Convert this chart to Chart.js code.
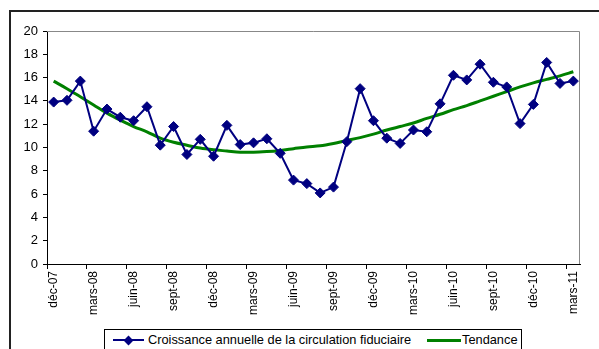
<!DOCTYPE html>
<html>
<head>
<meta charset="utf-8">
<script src="https://cdn.jsdelivr.net/npm/chart.js@4"></script>
<style>
  html, body { margin: 0; padding: 0; background: #fff; overflow: hidden; }
  #wrap { position: relative; width: 599px; height: 349px; }
  #chart { position: absolute; left: 0; top: 0; }
  #legend {
    position: absolute; left: 104px; top: 329px; width: 416px; height: 22px;
    border: 1px solid #000; background: #fff;
    font: 12.8px "Liberation Sans", Arial, sans-serif; color: #000;
    line-height: 20px; white-space: nowrap;
  }
  .swatch { position: absolute; top: 10px; }
  .diamond { position: absolute; width: 7px; height: 7px; transform: rotate(45deg); }
  .label { position: absolute; top: 0; }
</style>
</head>
<body>
<div id="wrap">
  <canvas id="chart" width="599" height="349"></canvas>
  <div id="legend"></div>
</div>
<script>
// Monthly categories, Dec 2007 to Mar 2011
const months = [
  'déc-07',
  'janv-08', 'févr-08', 'mars-08', 'avr-08', 'mai-08', 'juin-08',
  'juil-08', 'août-08', 'sept-08', 'oct-08', 'nov-08', 'déc-08',
  'janv-09', 'févr-09', 'mars-09', 'avr-09', 'mai-09', 'juin-09',
  'juil-09', 'août-09', 'sept-09', 'oct-09', 'nov-09', 'déc-09',
  'janv-10', 'févr-10', 'mars-10', 'avr-10', 'mai-10', 'juin-10',
  'juil-10', 'août-10', 'sept-10', 'oct-10', 'nov-10', 'déc-10',
  'janv-11', 'févr-11', 'mars-11'
];

// Annual growth of currency in circulation (%)
const croissance = [
  13.9, 14.05, 15.7, 11.4, 13.3, 12.6, 12.3, 13.5, 10.2, 11.8,
  9.4, 10.7, 9.25, 11.9, 10.25, 10.4, 10.75, 9.5, 7.2, 6.9,
  6.1, 6.6, 10.5, 15.05, 12.3, 10.8, 10.35, 11.5, 11.35, 13.75,
  16.2, 15.8, 17.15, 15.6, 15.2, 12.05, 13.7, 17.3, 15.5, 15.7
];

// Trend curve
const tendance = [
  15.7, 15.05, 14.35, 13.65, 12.95, 12.35, 11.8, 11.35, 10.8, 10.45,
  10.2, 9.95, 9.8, 9.7, 9.6, 9.6, 9.65, 9.75, 9.9, 10.05,
  10.15, 10.35, 10.6, 10.85, 11.15, 11.5, 11.8, 12.1, 12.5, 12.85,
  13.25, 13.6, 14.0, 14.4, 14.8, 15.2, 15.55, 15.85, 16.15, 16.5
];

const yTicks = { min: 0, max: 20, step: 2 };
const labelEvery = 3;

const NAVY = '#000080';
const GREEN = '#008000';
const FONT = '"Liberation Sans", Arial, sans-serif';

// Outer frame and the grey top/right edges of the plot area
const framePlugin = {
  id: 'frame',
  beforeDraw(chart) {
    const ctx = chart.ctx;
    ctx.save();
    ctx.fillStyle = '#fff';
    ctx.fillRect(0, 0, chart.width, chart.height);
    ctx.strokeStyle = '#222';
    ctx.lineWidth = 2;
    ctx.beginPath();
    ctx.moveTo(10, chart.height + 2);
    ctx.lineTo(10, 11);
    ctx.lineTo(chart.width + 2, 11);
    ctx.stroke();
    ctx.restore();
  },
  beforeDatasetsDraw(chart) {
    const { ctx, chartArea: a } = chart;
    ctx.save();
    ctx.strokeStyle = '#888';
    ctx.lineWidth = 1;
    ctx.beginPath();
    ctx.moveTo(a.left, a.top + 0.5);
    ctx.lineTo(a.right - 0.5, a.top + 0.5);
    ctx.lineTo(a.right - 0.5, a.bottom);
    ctx.stroke();
    ctx.restore();
  }
};

const chart = new Chart(document.getElementById('chart'), {
  type: 'line',
  data: {
    labels: months,
    datasets: [
      {
        label: 'Croissance annuelle de la circulation fiduciaire',
        data: croissance,
        borderColor: NAVY,
        backgroundColor: NAVY,
        borderWidth: 2,
        pointStyle: 'rectRot',
        pointRadius: 5,
        pointHoverRadius: 5,
        pointBackgroundColor: NAVY,
        pointBorderColor: NAVY,
        pointBorderWidth: 1,
        tension: 0,
        order: 1
      },
      {
        label: 'Tendance',
        data: tendance,
        borderColor: GREEN,
        backgroundColor: GREEN,
        borderWidth: 3,
        pointRadius: 0,
        cubicInterpolationMode: 'monotone',
        order: 2
      }
    ]
  },
  options: {
    responsive: false,
    animation: false,
    layout: { padding: { left: 0, top: 31, right: 19, bottom: 25 } },
    plugins: {
      legend: { display: false },
      tooltip: { enabled: false }
    },
    scales: {
      x: {
        type: 'category',
        offset: true,
        grid: {
          offset: true,
          drawOnChartArea: false,
          drawTicks: true,
          tickLength: 5,
          tickColor: (c) => (c.index % labelEvery === 0 ? '#000' : 'rgba(0,0,0,0)')
        },
        border: { color: '#000', width: 1 },
        ticks: {
          autoSkip: false,
          minRotation: 90,
          maxRotation: 90,
          padding: 2,
          color: '#000',
          font: { family: FONT, size: 12 },
          callback: function (value, index) {
            return index % labelEvery === 0 ? this.getLabelForValue(value) : '';
          }
        },
        afterFit: (s) => { s.height = 60; }
      },
      y: {
        min: yTicks.min,
        max: yTicks.max,
        grid: {
          drawOnChartArea: false,
          drawTicks: true,
          tickLength: 4,
          tickColor: '#000'
        },
        border: { color: '#000', width: 1 },
        ticks: {
          stepSize: yTicks.step,
          padding: 5,
          color: '#000',
          font: { family: FONT, size: 13 }
        },
        afterFit: (s) => { s.width = 47; }
      }
    }
  },
  plugins: [framePlugin]
});

// Legend built from the chart's datasets
(function buildLegend() {
  const legend = document.getElementById('legend');
  const layout = [
    { swatchLeft: 8, swatchWidth: 31, textLeft: 43, marker: true },
    { swatchLeft: 322, swatchWidth: 34, textLeft: 357, marker: false }
  ];
  chart.data.datasets.forEach((ds, i) => {
    const L = layout[i];
    const sw = document.createElement('div');
    sw.className = 'swatch';
    sw.style.left = L.swatchLeft + 'px';
    sw.style.width = L.swatchWidth + 'px';
    sw.style.height = ds.borderWidth + 'px';
    sw.style.marginTop = (-ds.borderWidth / 2) + 'px';
    sw.style.background = ds.borderColor;
    legend.appendChild(sw);
    if (L.marker) {
      const d = document.createElement('div');
      d.className = 'diamond';
      d.style.background = ds.borderColor;
      d.style.left = (L.swatchLeft + L.swatchWidth / 2 - 3.5) + 'px';
      d.style.top = '6.5px';
      legend.appendChild(d);
    }
    const t = document.createElement('div');
    t.className = 'label';
    t.style.left = L.textLeft + 'px';
    t.textContent = ds.label;
    legend.appendChild(t);
  });
})();
</script>
</body>
</html>
